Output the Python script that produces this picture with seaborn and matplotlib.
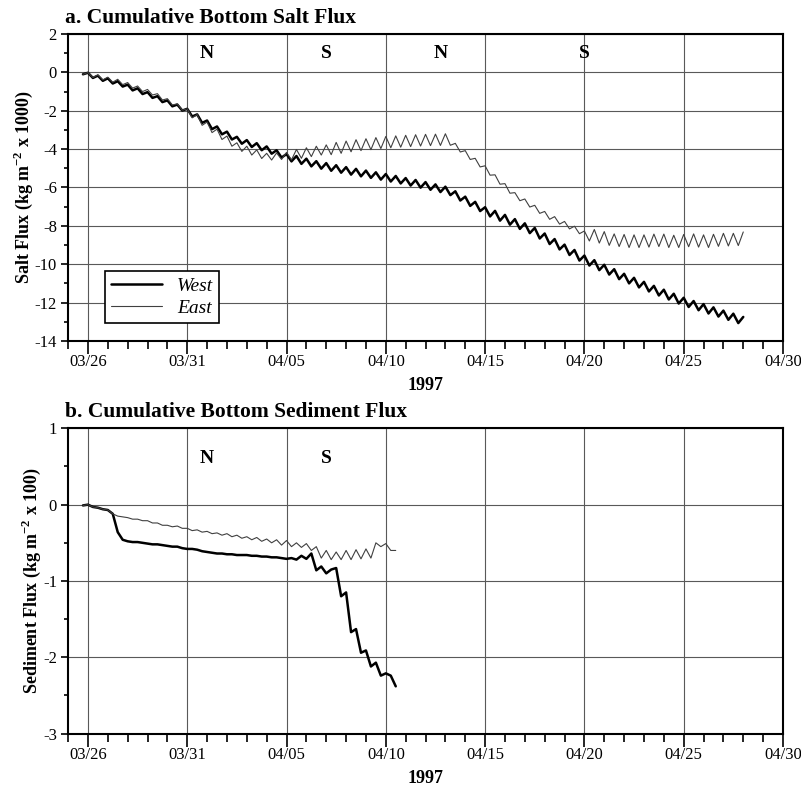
import numpy as np
import pandas as pd
import matplotlib
matplotlib.use("Agg")
import matplotlib.pyplot as plt
import matplotlib.dates as mdates
from matplotlib.ticker import MultipleLocator, FixedLocator
import seaborn as sns

# values, one every 6 hours starting 1997-03-25 18:00
west_salt = [
    -0.10, -0.02, -0.29, -0.17, -0.44, -0.31, -0.58, -0.46, -0.74, -0.64,
    -0.94, -0.83, -1.13, -1.03, -1.33, -1.24, -1.55, -1.46, -1.77, -1.68,
    -1.99, -1.90, -2.30, -2.19, -2.63, -2.51, -2.96, -2.82, -3.23, -3.09,
    -3.50, -3.36, -3.72, -3.53, -3.89, -3.69, -4.06, -3.86, -4.24, -4.06,
    -4.44, -4.26, -4.64, -4.36, -4.77, -4.50, -4.90, -4.63, -5.02, -4.73,
    -5.13, -4.84, -5.23, -4.94, -5.33, -5.03, -5.42, -5.12, -5.50, -5.21,
    -5.59, -5.30, -5.69, -5.40, -5.79, -5.51, -5.90, -5.61, -6.01, -5.72,
    -6.12, -5.84, -6.24, -5.96, -6.40, -6.20, -6.68, -6.48, -6.96, -6.75,
    -7.23, -7.03, -7.51, -7.22, -7.73, -7.43, -7.94, -7.65, -8.16, -7.87,
    -8.38, -8.11, -8.66, -8.40, -8.95, -8.69, -9.23, -8.98, -9.52, -9.26,
    -9.81, -9.55, -10.07, -9.79, -10.31, -10.03, -10.54, -10.26, -10.78, -10.50,
    -11.00, -10.71, -11.21, -10.92, -11.42, -11.13, -11.63, -11.33, -11.84, -11.54,
    -12.05, -11.75, -12.23, -11.92, -12.40, -12.08, -12.57, -12.25, -12.73, -12.42,
    -12.90, -12.58, -13.07, -12.75,
]
east_salt = [
    -0.10, -0.01, -0.27, -0.13, -0.39, -0.25, -0.51, -0.36, -0.64, -0.53,
    -0.82, -0.71, -1.00, -0.89, -1.18, -1.11, -1.44, -1.37, -1.70, -1.64,
    -1.97, -1.90, -2.37, -2.20, -2.76, -2.59, -3.14, -2.96, -3.50, -3.32,
    -3.85, -3.67, -4.12, -3.85, -4.31, -4.04, -4.49, -4.22, -4.57, -4.20,
    -4.54, -4.17, -4.56, -4.02, -4.48, -3.93, -4.39, -3.85, -4.31, -3.78,
    -4.29, -3.65, -4.22, -3.58, -4.14, -3.51, -4.08, -3.46, -4.03, -3.40,
    -3.97, -3.34, -3.93, -3.31, -3.90, -3.28, -3.87, -3.25, -3.84, -3.23,
    -3.82, -3.22, -3.81, -3.20, -3.80, -3.70, -4.15, -4.08, -4.54, -4.48,
    -4.93, -4.87, -5.36, -5.34, -5.83, -5.80, -6.30, -6.27, -6.69, -6.60,
    -7.02, -6.93, -7.35, -7.25, -7.66, -7.52, -7.91, -7.77, -8.16, -8.02,
    -8.41, -8.27, -8.79, -8.19, -8.90, -8.30, -9.02, -8.42, -9.08, -8.45,
    -9.13, -8.47, -9.13, -8.47, -9.11, -8.43, -9.08, -8.43, -9.13, -8.49,
    -9.13, -8.45, -9.09, -8.42, -9.11, -8.47, -9.13, -8.44, -9.07, -8.39,
    -9.05, -8.39, -9.03, -8.32,
]
west_sed = [
    -0.01, 0.00, -0.03, -0.04, -0.06, -0.07, -0.12, -0.36, -0.46, -0.48,
    -0.49, -0.49, -0.50, -0.51, -0.52, -0.52, -0.53, -0.54, -0.55, -0.55,
    -0.57, -0.58, -0.58, -0.59, -0.61, -0.62, -0.63, -0.64, -0.64, -0.65,
    -0.65, -0.66, -0.66, -0.66, -0.67, -0.67, -0.68, -0.68, -0.69, -0.69,
    -0.70, -0.71, -0.70, -0.72, -0.67, -0.71, -0.64, -0.86, -0.81, -0.90,
    -0.85, -0.83, -1.20, -1.15, -1.67, -1.63, -1.94, -1.91, -2.12, -2.07,
    -2.24, -2.21, -2.24, -2.38,
]
east_sed = [
    -0.01, 0.00, -0.03, -0.04, -0.06, -0.07, -0.12, -0.15, -0.16, -0.17,
    -0.19, -0.19, -0.21, -0.21, -0.24, -0.24, -0.27, -0.27, -0.29, -0.28,
    -0.31, -0.31, -0.34, -0.33, -0.36, -0.35, -0.38, -0.37, -0.40, -0.38,
    -0.42, -0.40, -0.44, -0.42, -0.46, -0.43, -0.48, -0.45, -0.50, -0.46,
    -0.53, -0.47, -0.55, -0.50, -0.56, -0.51, -0.60, -0.55, -0.70, -0.60,
    -0.72, -0.62, -0.72, -0.60, -0.72, -0.59, -0.71, -0.58, -0.70, -0.50,
    -0.55, -0.51, -0.60, -0.60,
]
phase_labels = ["N", "S", "N", "S"]
phase_dates_salt = ["1997-04-01", "1997-04-07", "1997-04-12 18:00", "1997-04-20"]
phase_dates_sed = ["1997-04-01", "1997-04-07"]

t_salt = pd.date_range("1997-03-25 18:00", periods=len(west_salt), freq="6h")
t_sed = pd.date_range("1997-03-25 18:00", periods=len(west_sed), freq="6h")

sns.set_theme(style="ticks")
plt.rcParams["font.family"] = ["Liberation Serif", "DejaVu Serif"]
plt.rcParams["mathtext.fontset"] = "custom"
plt.rcParams["mathtext.rm"] = "Liberation Serif"
plt.rcParams["mathtext.bf"] = "Liberation Serif:bold"
plt.rcParams["axes.unicode_minus"] = False
for key in ["text.color", "axes.labelcolor", "xtick.color", "ytick.color"]:
    plt.rcParams[key] = "black"

fig = plt.figure(figsize=(8.01, 7.91), dpi=100)
ax1 = fig.add_axes([0.085, 0.569, 0.8925, 0.388])
ax2 = fig.add_axes([0.085, 0.0725, 0.8925, 0.386])

x0 = pd.Timestamp("1997-03-25")
x1 = pd.Timestamp("1997-04-30")
majors = mdates.date2num(pd.date_range("1997-03-26", "1997-04-30", freq="5D"))

for ax in (ax1, ax2):
    ax.set_xlim(x0, x1)
    ax.xaxis.set_major_locator(FixedLocator(majors))
    ax.xaxis.set_minor_locator(mdates.DayLocator())
    ax.xaxis.set_major_formatter(mdates.DateFormatter("%m/%d"))
    ax.tick_params(axis="x", which="major", direction="out", length=9.5, width=1.2,
                   labelsize=12, pad=0, colors="black")
    ax.tick_params(axis="x", which="minor", direction="out", length=5.5, width=1.2)
    ax.tick_params(axis="y", which="major", direction="out", length=5, width=1.2,
                   labelsize=12, pad=3)
    ax.tick_params(axis="y", which="minor", direction="out", length=3, width=1.2)
    ax.grid(True, which="major", color="0.35", lw=0.8)
    for s in ax.spines.values():
        s.set_visible(True)
        s.set_linewidth(1.5)
        s.set_color("black")
    ax.set_xlabel("1997", fontsize=13, fontweight="bold", labelpad=5)

# a. salt flux
sns.lineplot(x=t_salt, y=west_salt, ax=ax1, color="black", lw=1.8, label="West", sort=False)
sns.lineplot(x=t_salt, y=east_salt, ax=ax1, color="0.25", lw=0.8, label="East", sort=False)
ax1.set_ylim(-14, 2)
ax1.yaxis.set_major_locator(MultipleLocator(2))
ax1.yaxis.set_minor_locator(MultipleLocator(1))
ax1.set_ylabel(r"Salt Flux (kg m$^{\mathbf{-2}}$ x 1000)", fontsize=13,
               fontweight="bold", labelpad=0)
ax1.set_title("a. Cumulative Bottom Salt Flux", loc="left", fontsize=15.5,
              fontweight="bold", pad=8, x=-0.005)
for lab, d in zip(phase_labels, phase_dates_salt):
    ax1.text(pd.Timestamp(d), 1.0, lab, ha="center", va="center",
             fontsize=14, fontweight="bold")
leg = ax1.legend(loc="lower left", bbox_to_anchor=(0.052, 0.058), frameon=True,
                 fancybox=False, edgecolor="black", framealpha=1,
                 prop={"style": "italic", "size": 14}, handlelength=2.6,
                 borderpad=0.3, labelspacing=0.25, borderaxespad=0)
leg.get_frame().set_linewidth(1.2)

# b. sediment flux
sns.lineplot(x=t_sed, y=west_sed, ax=ax2, color="black", lw=1.8, sort=False, legend=False)
sns.lineplot(x=t_sed, y=east_sed, ax=ax2, color="0.25", lw=0.8, sort=False, legend=False)
ax2.set_ylim(-3, 1)
ax2.yaxis.set_major_locator(MultipleLocator(1))
ax2.yaxis.set_minor_locator(MultipleLocator(0.5))
ax2.set_ylabel(r"Sediment Flux (kg m$^{\mathbf{-2}}$ x 100)", fontsize=13,
               fontweight="bold", labelpad=0)
ax2.set_title("b. Cumulative Bottom Sediment Flux", loc="left", fontsize=15.5,
              fontweight="bold", pad=8, x=-0.005)
for lab, d in zip(phase_labels[:2], phase_dates_sed):
    ax2.text(pd.Timestamp(d), 0.61, lab, ha="center", va="center",
             fontsize=14, fontweight="bold")

fig.savefig("out.png", dpi=100)
